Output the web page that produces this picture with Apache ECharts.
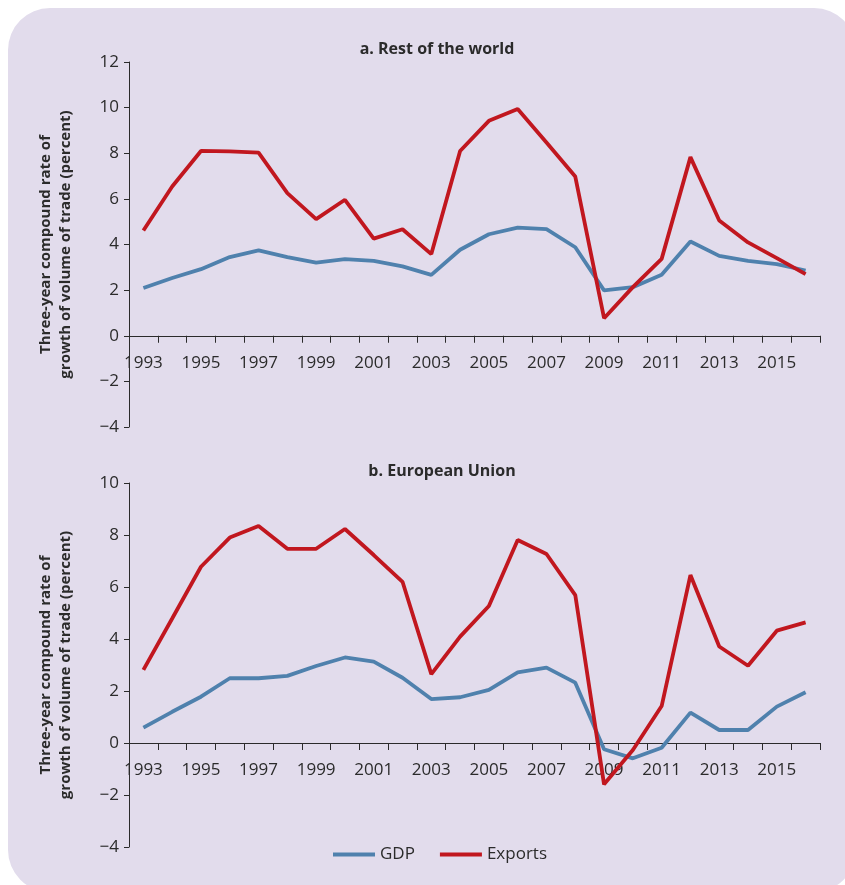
<!DOCTYPE html>
<html>
<head>
    <meta charset="UTF-8">
    <title>Three-year compound growth of trade volume</title>
    <script src="https://cdnjs.cloudflare.com/ajax/libs/echarts/6.0.0/echarts.min.js"></script>
    <style>
        body {
            margin: 0;
            background-color: #ffffff;
        }

        #chart {
            width: 845px;
            height: 885px;
        }
    </style>
</head>
<body>
    <div id="chart"></div>

    <script>
        // 데이터
        const years = ['1993', '1994', '1995', '1996', '1997', '1998', '1999', '2000',
            '2001', '2002', '2003', '2004', '2005', '2006', '2007', '2008',
            '2009', '2010', '2011', '2012', '2013', '2014', '2015', '2016'];

        // a. Rest of the world
        const rowGdp = [2.09, 2.53, 2.92, 3.45, 3.74, 3.45, 3.21, 3.36, 3.28, 3.04, 2.67, 3.77,
            4.45, 4.74, 4.67, 3.88, 1.99, 2.13, 2.67, 4.13, 3.50, 3.28, 3.14, 2.86];
        const rowExports = [4.61, 6.54, 8.10, 8.08, 8.03, 6.25, 5.11, 5.96, 4.26, 4.67, 3.58, 8.10,
            9.42, 9.94, 8.47, 6.98, 0.77, 2.13, 3.37, 7.83, 5.05, 4.09, 3.40, 2.70];

        // b. European Union
        const euGdp = [0.59, 1.20, 1.78, 2.49, 2.49, 2.58, 2.96, 3.29, 3.13, 2.51, 1.69, 1.76,
            2.04, 2.72, 2.90, 2.32, -0.24, -0.59, -0.18, 1.17, 0.50, 0.50, 1.40, 1.95];
        const euExports = [2.81, 4.79, 6.78, 7.90, 8.35, 7.47, 7.47, 8.23, 7.23, 6.20, 2.65, 4.09,
            5.27, 7.81, 7.27, 5.69, -1.59, -0.27, 1.42, 6.46, 3.71, 2.97, 4.32, 4.64];

        const panelTitles = ['a. Rest of the world', 'b. European Union'];
        const yName = 'Three-year compound rate of\ngrowth of volume of trade (percent)';

        const FONT = '"Open Sans", "DejaVu Sans", sans-serif';
        const TEXT = '#2b2b2b';
        const BLUE = '#4f81ad';
        const RED = '#c1171f';

        const myChart = echarts.init(document.getElementById('chart'), null, { renderer: 'canvas' });

        function minusSign(v) {
            return String(v).replace('-', '\u2212');
        }

        // x축은 0 위치에 그리기 (offset 음수로 위로 이동)
        function makeXAxis(gridIndex, offset) {
            return {
                type: 'category',
                gridIndex: gridIndex,
                data: years,
                boundaryGap: true,
                position: 'bottom',
                offset: offset,
                axisLine: { onZero: false, lineStyle: { color: TEXT, width: 1 } },
                axisTick: { show: true, interval: 0, length: 7, lineStyle: { color: TEXT } },
                axisLabel: {
                    interval: 1,
                    margin: 19,
                    color: TEXT,
                    fontFamily: FONT,
                    fontSize: 17
                },
                splitLine: { show: false }
            };
        }

        function makeYAxis(gridIndex, max) {
            return {
                type: 'value',
                gridIndex: gridIndex,
                min: -4,
                max: max,
                interval: 2,
                name: yName,
                nameLocation: 'middle',
                nameGap: 53,
                nameTextStyle: {
                    color: TEXT,
                    fontFamily: FONT,
                    fontSize: 15,
                    fontWeight: 'bold',
                    lineHeight: 20
                },
                axisLine: { show: true, lineStyle: { color: TEXT, width: 1 } },
                axisTick: { show: true, length: 5, lineStyle: { color: TEXT } },
                axisLabel: {
                    margin: 10,
                    color: TEXT,
                    fontFamily: FONT,
                    fontSize: 17,
                    formatter: minusSign
                },
                splitLine: { show: false }
            };
        }

        function makeLine(name, data, color, idx) {
            return {
                name: name,
                type: 'line',
                xAxisIndex: idx,
                yAxisIndex: idx,
                data: data,
                symbol: 'none',
                smooth: false,
                lineStyle: { color: color, width: 3.8 },
                itemStyle: { color: color }
            };
        }

        const option = {
            animation: false,
            graphic: [{
                type: 'rect',
                z: -10,
                shape: { x: 8, y: 8, width: 848, height: 884, r: 42 },
                style: { fill: '#e2dcec' }
            }],
            title: [
                {
                    text: panelTitles[0],
                    left: 432, top: 36, textAlign: 'center',
                    textStyle: { color: TEXT, fontFamily: FONT, fontSize: 16, fontWeight: 'bold' }
                },
                {
                    text: panelTitles[1],
                    left: 437, top: 458, textAlign: 'center',
                    textStyle: { color: TEXT, fontFamily: FONT, fontSize: 16, fontWeight: 'bold' }
                }
            ],
            legend: {
                data: ['GDP', 'Exports'],
                left: 328,
                top: 841,
                icon: 'rect',
                itemWidth: 42,
                itemHeight: 4,
                itemGap: 25,
                textStyle: { color: TEXT, fontFamily: FONT, fontSize: 17 }
            },
            grid: [
                { left: 129, right: 25, top: 62, height: 365 },
                { left: 129, right: 25, top: 483, height: 364 }
            ],
            xAxis: [makeXAxis(0, -365 * 4 / 16), makeXAxis(1, -364 * 4 / 14)],
            yAxis: [makeYAxis(0, 12), makeYAxis(1, 10)],
            series: [
                makeLine('GDP', rowGdp, BLUE, 0),
                makeLine('Exports', rowExports, RED, 0),
                makeLine('GDP', euGdp, BLUE, 1),
                makeLine('Exports', euExports, RED, 1)
            ]
        };

        myChart.setOption(option);
    </script>
</body>
</html>
